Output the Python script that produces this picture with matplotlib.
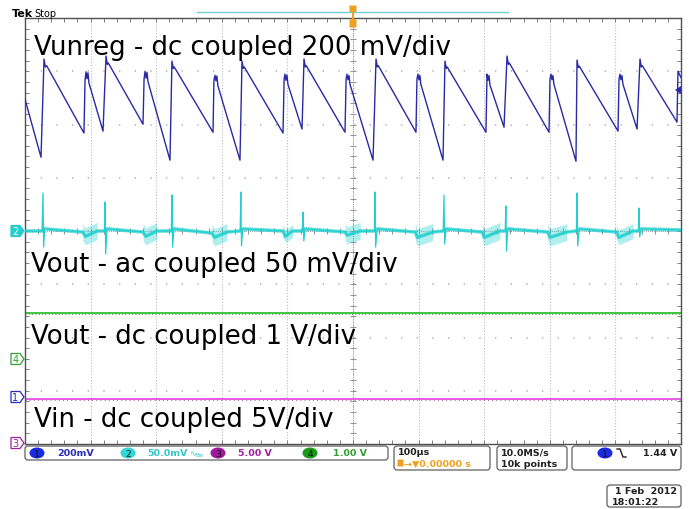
import numpy as np
import matplotlib.pyplot as plt
from matplotlib.patches import FancyBboxPatch, Ellipse, Polygon

# ---- data ----
# time base 100 us/div, 10 div ; vertical 8 div
# ch1 Vunreg, 200 mV/div (us, mV)
ch1_t = [0, 24.4, 29, 31, 33, 89.9, 91.5, 93, 94.5, 96, 97.5, 118.9,
         123.5, 125.5, 127, 179.9, 181.5, 183, 184.5, 186, 187.5, 221,
         224, 226, 227.5, 286.6, 288, 289.6, 291, 292.5, 294, 327.7,
         330.8, 332.8, 334.3, 393.3, 395, 396.3, 397.8, 399.3, 400.8, 422.3,
         425.3, 427.3, 428.8, 487.8, 489.5, 490.9, 492.4, 493.9, 495.4, 530.5,
         535.1, 537.1, 538.6, 596, 597.5, 599, 600.5, 602, 603.5, 637.2,
         640.2, 642.2, 643.7, 702.7, 704.3, 705.8, 707.3, 708.8, 730.2,
         734.8, 736.8, 738.3, 798.8, 800.3, 801.8, 803.3, 804.8, 806.3, 839.9,
         841.5, 843.5, 845, 904, 905.5, 907, 908.5, 910, 911.5, 933,
         937.5, 939.5, 941, 993.9, 995.4, 1000]
ch1_mv = [1119, 901, 1270, 1240, 1245, 992, 1190, 1222, 1196, 1218, 1180, 999,
          1281, 1250, 1255, 1025, 1195, 1224, 1198, 1220, 1185, 890,
          1262, 1235, 1240, 995, 1190, 1209, 1188, 1206, 1170, 890,
          1262, 1235, 1240, 992, 1195, 1213, 1190, 1210, 1175, 1007,
          1270, 1240, 1245, 995, 1195, 1213, 1192, 1208, 1175, 890,
          1270, 1240, 1245, 995, 1195, 1213, 1192, 1208, 1175, 890,
          1262, 1235, 1240, 995, 1213, 1190, 1208, 1172, 1014,
          1281, 1250, 1255, 995, 1195, 1213, 1192, 1208, 1175, 886,
          1266, 1238, 1243, 999, 1195, 1213, 1192, 1208, 1175, 1007,
          1270, 1240, 1245, 1033, 1224, 1200]

# ch2 Vout ac coupled, 50 mV/div: baseline drift, spikes, ringing bursts (us, mV)
ch2_base_t = [0, 26, 30, 88, 92, 110, 121, 125, 180, 184, 201, 223, 227, 285,
              289, 308, 328, 332, 393, 397, 408, 423, 427, 488, 491, 511, 532.5,
              537, 595, 598, 622, 637.5, 642, 697, 700, 724, 732, 736, 797, 800,
              826, 840.5, 845, 902, 905, 927, 935, 939, 1000]
ch2_base_mv = [0, 0, 2, -1, -5, 0, 0, 2, -1, -5, 0, 0, 2, -2,
               -6, -1, 0, 2, 0, -5, 0, 0, 2, -1, -4, 0, 0,
               2, -1, -6, -1, 0, 2, -1, -6, 0, 0, 2, -1, -6,
               -1, 0, 2, -1, -6, 0, 0, 2, 1]
ch2_spike_t = [27.4, 122, 224, 329, 424, 533.5, 638.7, 733, 841.5, 936]
ch2_spike_up = [35.7, 27.2, 33.8, 36.6, 17.8, 36.6, 33.8, 23.5, 35.7, 21.6]
ch2_spike_dn = [-15, -21.6, -15, -14, -9.4, -15, -12.2, -18.8, -14, -5.6]
ch2_burst_start = [88, 180, 285, 393, 488, 595, 697, 797, 902]
ch2_burst_end = [110, 201, 308, 408, 511, 622, 724, 826, 927]
ch2_burst_amp = [8, 8, 8, 6, 8, 8, 8, 8, 7]

# ch4 Vout dc coupled 1 V/div, ch3 Vin dc coupled 5 V/div
ch4_t = [0, 1000]
ch4_v = [0.86, 0.86]
ch3_t = [0, 1000]
ch3_v = [4.2, 4.2]

# channel scale (per div) and ground position (div from centre)
scale = {1: 200, 2: 50, 3: 5, 4: 1}
ground = {1: -3.12, 2: 0.0, 3: -4.0, 4: -2.4}
col = {1: '#2a2aa6', 2: '#22d0d0', 3: '#e24ee2', 4: '#30c030'}
badge = {1: '#1a2ae0', 2: '#30d8d8', 3: '#a0189e', 4: '#1a9a1a'}
label_col = {1: '#2a2ab8', 2: '#30c8c8', 3: '#a0209e', 4: '#30a030'}


def to_div(ch, v):
    return ground[ch] + np.asarray(v, dtype=float) / scale[ch]


fig = plt.figure(figsize=(6.9, 5.1), dpi=100, facecolor='white')
ax = fig.add_axes([25 / 690, 65 / 510, 656 / 690, 426 / 510])
ax.set_xlim(0, 1000)
ax.set_ylim(-4, 4)

# graticule
for x in range(100, 1000, 100):
    ax.axvline(x, color='#bcbcbc', lw=0.8, ls=(0, (1, 1.6)), zorder=0)
for y in range(-3, 4):
    ax.axhline(y, color='#b4b4b4', lw=1.2, ls=(0, (0.8, 8.6)), zorder=0)
ax.axvline(500, color='#999999', lw=0.7, ls=(0, (1, 1.2)), zorder=0)
ax.axhline(0, color='#999999', lw=0.7, ls=(0, (1, 1.2)), zorder=0)
ax.plot(np.full(41, 500.0), np.linspace(-4, 4, 41), ls='none', marker='_',
        ms=4, mew=0.7, color='#909090', zorder=0)
ax.plot(np.linspace(0, 1000, 51), np.zeros(51), ls='none', marker='|',
        ms=4, mew=0.7, color='#909090', zorder=0)
ax.set_xticks(np.arange(0, 1001, 20))
ax.set_yticks(np.linspace(-4, 4, 41))
ax.tick_params(direction='in', length=3, width=0.7, color='#808080',
               top=True, right=True, labelbottom=False, labelleft=False)
for s in ax.spines.values():
    s.set_color('#505050')
    s.set_linewidth(1.0)

# ch3 and ch4 flat traces
ax.plot(ch3_t, to_div(3, ch3_v), color=col[3], lw=1.3, zorder=2)
ax.plot(ch3_t, to_div(3, ch3_v) - 0.02, color='#8a2a8a', lw=0.6,
        ls=(0, (1, 4)), zorder=2)
ax.plot(ch4_t, to_div(4, ch4_v), color=col[4], lw=1.3, zorder=2)
ax.plot(ch4_t, to_div(4, ch4_v) - 0.02, color='#1e6e1e', lw=0.6,
        ls=(0, (1, 3)), zorder=2)

# ch2 ripple
tt = list(ch2_base_t) + ch2_spike_t + [t + 1 for t in ch2_spike_t]
vv = list(ch2_base_mv) + ch2_spike_up + ch2_spike_dn
order = np.argsort(tt)
ax.plot(ch2_base_t, to_div(2, ch2_base_mv), color=col[2], lw=2.6,
        alpha=0.7, zorder=3, solid_capstyle='butt')
for t0, t1, a in zip(ch2_burst_start, ch2_burst_end, ch2_burst_amp):
    bt = np.linspace(t0, t1, 20)
    mid = np.interp(bt, ch2_base_t, ch2_base_mv)
    ax.fill_between(bt, to_div(2, mid - a), to_div(2, mid + a),
                    color=col[2], alpha=0.35, lw=0, zorder=3)
ax.plot(np.array(tt)[order], to_div(2, np.array(vv)[order]), color=col[2],
        lw=0.9, zorder=3)

# ch1 sawtooth
ax.plot(ch1_t, to_div(1, ch1_mv), color=col[1], lw=1.0, zorder=4)

# ---- overlay in screen pixels ----
ov = fig.add_axes([0, 0, 1, 1])
ov.set_xlim(0, 690)
ov.set_ylim(510, 0)
ov.axis('off')

big = dict(fontsize=18.7, color='black', va='baseline', ha='left')
ov.text(33.5, 55, 'Vunreg - dc coupled 200 mV/div', **big)
ov.text(31, 272, 'Vout - ac coupled 50 mV/div', **big)
ov.text(31, 344, 'Vout - dc coupled 1 V/div', **big)
ov.text(33.5, 427, 'Vin - dc coupled 5V/div', **big)

ov.text(12, 17, 'Tek', fontsize=8, fontweight='bold', va='baseline')
ov.text(34, 17, 'Stop', fontsize=7, va='baseline')

# record length bar and trigger position marker
ov.plot([197, 508], [13, 13], color='#70d0d0', lw=1)
ov.add_patch(FancyBboxPatch((350, 7), 6, 6, boxstyle='round,pad=0.5',
                            fc='#f0a020', ec='none'))
ov.add_patch(FancyBboxPatch((350, 21), 6, 7, boxstyle='round,pad=0.5',
                            fc='#f0a020', ec='none'))
ov.plot([353, 353], [13, 21], color='#f0a020', lw=1.5)
ov.add_patch(Polygon([[675, 91], [681, 87], [681, 95]], closed=True,
                     fc=col[1], ec='none'))

# channel ground markers on the left
for ch, yc, filled in [(2, 232, True), (4, 360, False), (1, 398, False),
                       (3, 444, False)]:
    pts = [[11, yc - 5.5], [20, yc - 5.5], [24, yc], [20, yc + 5.5],
           [11, yc + 5.5]]
    ov.add_patch(Polygon(pts, closed=True, fc=col[ch] if filled else 'white',
                         ec=label_col[ch], lw=0.9))
    ov.text(15.5, yc + 0.5, str(ch), fontsize=7, ha='center', va='center',
            color='white' if filled else label_col[ch])

# status bar
def box(x0, y0, x1, y1):
    ov.add_patch(FancyBboxPatch((x0 + 3, y0 + 3), x1 - x0 - 6, y1 - y0 - 6,
                                boxstyle='round,pad=3', fc='white',
                                ec='#606060', lw=0.9))


box(25, 447, 388, 461)
box(394, 447, 490, 471)
box(497, 447, 567, 471)
box(572, 447, 681, 471)
box(607, 486, 681, 508)

small = dict(fontsize=6.8, va='center', fontweight='bold')
for ch, xb, xt, lab in [(1, 37, 57, '200mV'), (2, 128, 147, '50.0mV'),
                        (3, 218, 238, '5.00 V'), (4, 310, 333, '1.00 V')]:
    ov.add_patch(Ellipse((xb, 454), 15, 11, fc=badge[ch], ec='none'))
    ov.text(xb, 454.5, str(ch), fontsize=6.5, ha='center', va='center',
            color='#101010')
    ov.text(xt, 454, lab, color=label_col[ch], **small)
ov.text(189, 454, '\u223f', color=label_col[2], fontsize=6, va='center')
ov.text(196, 455.5, 'Bw', color=label_col[2], fontsize=4, va='center')

ov.text(398, 453, '100\u00b5s', color='#202020', **small)
ov.add_patch(FancyBboxPatch((398, 461), 5, 6, boxstyle='round,pad=0.5',
                            fc='#f0a020', ec='none'))
ov.text(404, 464, '\u2192\u25bc0.00000 s', color='#f0a020', **small)
ov.text(501, 453, '10.0MS/s', color='#202020', **small)
ov.text(501, 465, '10k points', color='#202020', **small)
ov.add_patch(Ellipse((605, 454), 15, 11, fc=badge[1], ec='none'))
ov.text(605, 454.5, '1', fontsize=6.5, ha='center', va='center',
        color='#101010')
ov.plot([617, 620, 623, 626], [450, 450, 458, 458], color='#202020', lw=1)
ov.text(677, 454, '1.44 V', color='#202020', ha='right', **small)
ov.text(677, 492, '1 Feb  2012', color='#202020', ha='right', **small)
ov.text(612, 502.5, '18:01:22', color='#202020', **small)

fig.savefig('out.png', dpi=100, facecolor='white')
